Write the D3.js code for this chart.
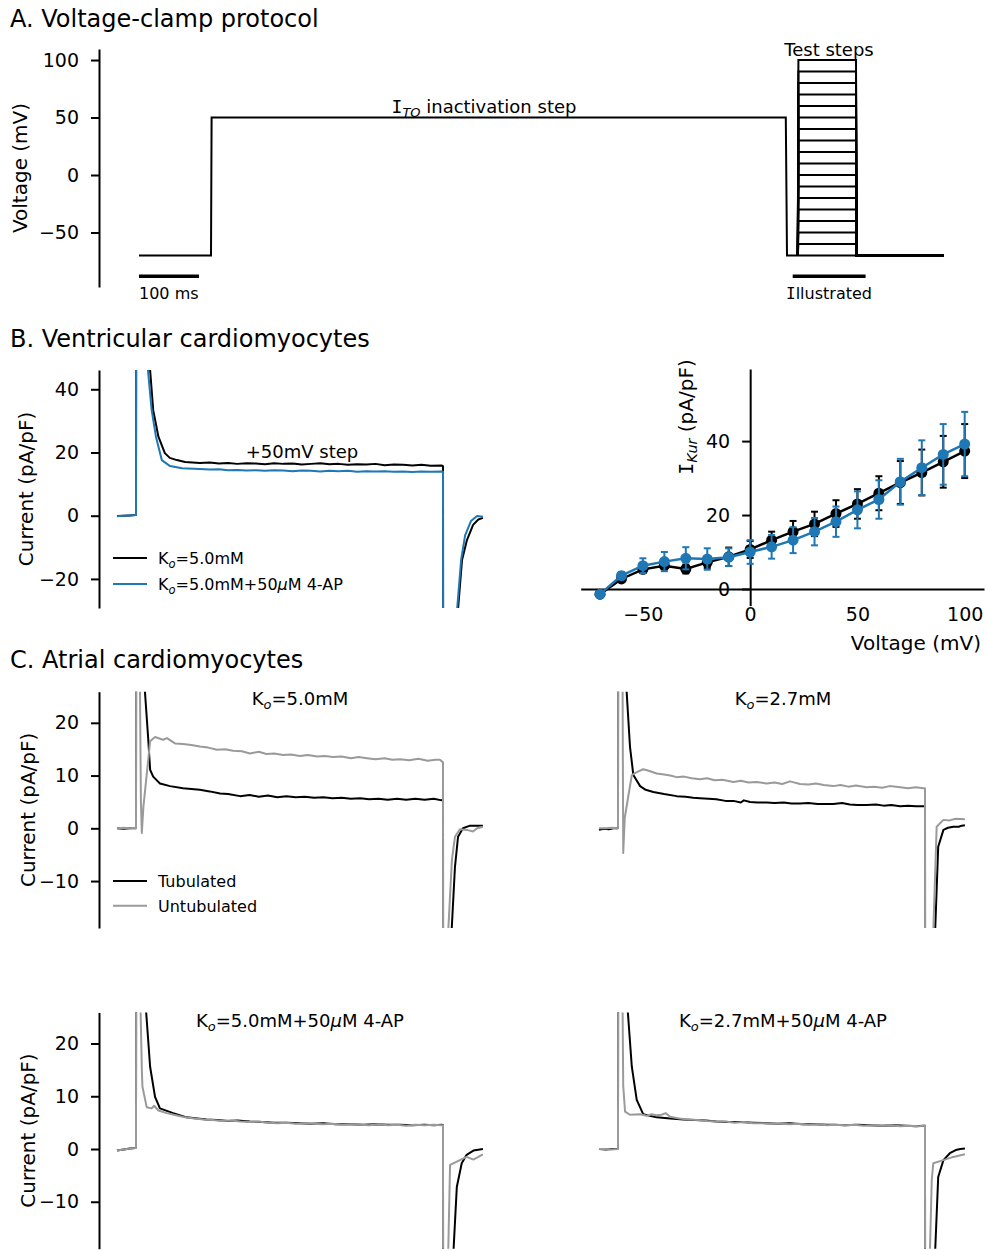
<!DOCTYPE html>
<html>
<head>
<meta charset="utf-8">
<script src="https://cdn.jsdelivr.net/npm/d3@7"></script>
<style>
  body { margin: 0; background: #fff; }
  svg text { font-family: "DejaVu Sans", Verdana, sans-serif; fill: #000; }
</style>
</head>
<body>
<svg id="fig" width="987" height="1251"></svg>
<script>
// ---------- Panel A: voltage-clamp protocol (time in ms, voltage in mV) ----------
const protocolTime    = [0, 120, 121, 1078, 1080, 1098];
const protocolVoltage = [-70, -70, 50, 50, -70, -70];
const testStepVoltages = [-70, -60, -50, -40, -30, -20, -10, 0, 10, 20, 30, 40, 50, 60, 70, 80, 90, 100];
const testStepTimes    = [1098, 1099, 1195, 1196, 1341];
const protocolTicks    = [-50, 0, 50, 100];

// ---------- Panel B: ventricular traces, [time from test-step onset (ms), current (pA/pF)] ----------
const ventControl = [[-6.2,-0.1],[-4,0.0],[-2,0.1],[-0.2,0.2],[0,0.3],[0.4,420],[4.6,46],[5.6,33.4],[7.3,25.0],[9.4,19.8],[11,18.3],[13.3,17.6],[16,17.0],[20.8,16.7],[24,16.8],[27,16.5],[30,16.7],[33,16.4],[36,16.6],[39,16.5],[42,16.3],[45,16.6],[48,16.4],[51,16.5],[54,16.2],[57,16.4],[60,16.6],[63,16.3],[66,16.4],[69,16.1],[72,16.3],[75,16.2],[78,16.4],[81,16.0],[84,16.2],[87,16.1],[90,15.9],[93,16.1],[96,15.8],[99.6,15.9],[100,15.6],[100.3,-420],[103.5,-70],[104.9,-29.5],[106.2,-14.0],[107.8,-7.7],[109.8,-2.9],[111.5,-1.2],[113,-0.7]];
const ventFourAP  = [[-6.2,-0.2],[-4,0.0],[-2,0.1],[-0.2,0.2],[0,0.3],[0.4,420],[3.9,46],[5.1,33.4],[6.5,25.0],[8.4,17.6],[11.1,15.7],[15,15.0],[20.8,14.8],[24,14.6],[27,14.7],[30,14.4],[33,14.5],[36,14.3],[39,14.4],[42,14.2],[45,14.4],[48,14.3],[51,14.1],[54,14.3],[57,14.2],[60,14.0],[63,14.2],[66,14.1],[69,14.2],[72,13.9],[75,14.1],[78,14.0],[81,14.1],[84,13.9],[87,14.0],[90,13.8],[93,14.0],[96,13.9],[99.6,14.0],[100,13.9],[100.3,-420],[103.3,-70],[104.6,-29.5],[105.9,-14.0],[107.2,-6.2],[109.1,-1.7],[111.1,-0.1],[113,-0.3]];
const ventTicks = [-20, 0, 20, 40];

// ---------- Panel B: I-V relation of IKur ----------
const ivVoltage    = [-70, -60, -50, -40, -30, -20, -10, 0, 10, 20, 30, 40, 50, 60, 70, 80, 90, 100];
const ivControl    = [-1.4, 2.7, 5.3, 6.3, 5.4, 7.2, 8.7, 10.7, 13.2, 15.5, 17.6, 20.4, 23.0, 25.9, 28.8, 31.5, 34.4, 37.3];
const ivControlErr = [0.3, 0.8, 1.0, 1.0, 1.2, 1.5, 2.5, 2.3, 2.3, 2.9, 3.3, 3.6, 4.0, 4.6, 5.8, 6.2, 7.0, 7.3];
const ivFourAP     = [-1.4, 3.6, 6.3, 7.4, 8.3, 8.1, 8.6, 10.0, 11.4, 13.2, 15.5, 18.2, 21.4, 24.2, 29.0, 32.8, 36.4, 39.2];
const ivFourAPErr  = [0.5, 1.0, 2.0, 2.6, 3.0, 2.9, 2.4, 3.2, 3.2, 3.5, 3.7, 4.1, 5.0, 5.2, 6.2, 7.4, 8.2, 8.7];
const ivXTicks = [-50, 0, 50, 100];
const ivYTicks = [0, 20, 40];

// ---------- Panel C: atrial traces ----------
const atrTub50 = [[-6.2,0.0],[-4,-0.1],[-2,0.0],[-0.2,0.0],[0,0.1],[0.4,300],[2.9,26],[4.0,16.8],[4.6,11.1],[5.6,9.8],[7.8,8.5],[11.1,8.0],[15.3,7.6],[20.8,7.3],[24,7.0],[27.4,6.6],[30,6.5],[33.9,6.1],[37,6.3],[40,6.0],[43,6.2],[46,5.9],[49,6.1],[52,5.9],[55,6.0],[58,5.8],[61,5.9],[64,5.7],[67,5.8],[70,5.6],[73,5.7],[76,5.5],[79,5.6],[82,5.4],[85,5.6],[88,5.4],[91,5.6],[94,5.4],[97,5.6],[99.6,5.3],[100,5.5],[100.3,-300],[102.8,-19.5],[103.9,-7.3],[104.9,-1.6],[106.5,0.0],[108.8,0.5],[113,0.5]];
const atrUntub50 = [[-6.2,0.0],[-4,0.1],[-2,0.0],[-0.2,0.1],[0,0.0],[0.3,200],[1.3,26],[1.6,5],[1.9,-0.9],[2.4,4],[4.6,16.5],[6.2,17.3],[8.8,16.8],[10.1,17.1],[12.7,16.1],[15.3,16.0],[18,15.8],[20.8,15.5],[23.5,15.3],[26.4,14.9],[29,15.0],[31.6,14.7],[34.5,14.6],[37.1,14.2],[40,14.5],[42.5,14.1],[45,14.2],[47.9,13.9],[50.5,14.0],[53.4,13.7],[56,13.9],[59,13.6],[61.5,13.7],[64.2,13.5],[67,13.6],[70,13.3],[72.5,13.5],[75.2,13.3],[78,13.1],[81,13.3],[83.5,13.0],[86,13.1],[89,12.9],[92,13.2],[95,12.8],[97.5,13.0],[99,13.0],[100,12.5],[100.2,-300],[101.7,-19.5],[102.9,-6.0],[103.9,-1.6],[105.5,-0.2],[107.8,-0.3],[109.8,-0.6],[111.1,0.0],[113,0.3]];
const atrTub27 = [[-6.2,-0.3],[-4.5,-0.1],[-3,-0.2],[-1.5,0.0],[-0.2,0.0],[0,0.1],[0.4,300],[2.8,26],[3.9,15.5],[5.0,10.1],[7.2,8.0],[9,7.3],[11.5,6.9],[15,6.5],[19.1,6.1],[22,6.0],[24.5,5.8],[26.7,5.7],[29.5,5.6],[32,5.5],[35,5.2],[37.6,5.2],[40,4.9],[41,5.3],[43,5.0],[45.5,4.9],[48.4,4.9],[51,4.8],[54,4.9],[56.5,4.7],[59.3,4.7],[62,4.8],[65,4.6],[67.5,4.6],[70.1,4.6],[73,4.8],[75.5,4.5],[78,4.4],[81,4.4],[84,4.5],[86.5,4.3],[89,4.4],[91.9,4.2],[94.5,4.3],[97,4.2],[99.4,4.2],[100,4.2],[100.3,-300],[103.3,-19.5],[104.3,-3.5],[106.0,-0.3],[107.5,0.1],[109.2,0.3],[111,0.3],[112,0.5],[113,0.6]];
const atrUntub27 = [[-6.2,0.0],[-4,0.0],[-2,0.1],[-0.2,0.0],[0,0.0],[0.3,200],[1.5,26],[1.7,-4.7],[2.2,2],[4.5,10.1],[6,10.6],[8.2,11.2],[10,10.9],[12.6,10.4],[15,10.2],[17,10.0],[19.1,9.7],[21.5,9.8],[24,9.5],[26.7,9.3],[29,9.5],[31.5,9.1],[34,9.2],[37.6,8.8],[40,9.0],[42.5,8.7],[45,8.8],[48.4,8.5],[51,8.7],[53.5,8.4],[56,8.9],[59.3,8.4],[62,8.3],[64.5,8.5],[67,8.2],[70.1,8.0],[72.5,8.2],[75,7.9],[77.5,8.1],[81,7.8],[83.5,7.9],[86,7.7],[88.5,8.0],[91.9,7.8],[94.5,7.6],[97,7.8],[99.4,7.6],[100,7.6],[100.2,-300],[102.7,-19.5],[103.8,0.3],[106.0,1.6],[108,1.5],[110,1.8],[113,1.7]];
const atrTub50AP = [[-6.2,-0.3],[-4,-0.1],[-2,0.1],[-0.2,0.2],[0,0.3],[0.4,300],[3.3,26],[4.6,15.6],[6.2,9.9],[7.8,7.7],[12.1,6.8],[16.5,6.0],[20,5.8],[23,5.6],[26.3,5.5],[30,5.3],[33,5.4],[37.1,5.2],[41,5.1],[45,5.0],[49,5.0],[53.4,4.9],[57,4.8],[61,4.9],[65,4.7],[69.7,4.7],[74,4.6],[78,4.7],[82,4.6],[86,4.6],[90,4.5],[94,4.6],[97,4.5],[99.6,4.6],[100,4.5],[100.3,-300],[103.4,-19.5],[104.5,-7.2],[106.1,-2.7],[107.7,-1.1],[109.9,-0.3],[113,0.0]];
const atrUntub50AP = [[-6.2,-0.3],[-4,-0.1],[-2,0.1],[-0.2,0.2],[0,0.3],[0.3,200],[1.5,26],[1.9,15],[2.1,11.8],[3.5,7.9],[5.1,7.7],[5.9,8.2],[7.3,7.3],[10,6.8],[13,6.4],[16,6.0],[19,5.8],[22,5.6],[25,5.5],[28,5.3],[31,5.4],[34,5.2],[37,5.1],[40,5.2],[43,5.0],[46,4.9],[49,5.0],[52,4.8],[55,4.9],[58,4.8],[61,4.7],[64,4.8],[67,4.6],[70,4.7],[73,4.6],[76,4.5],[79,4.7],[82,4.5],[85,4.6],[88,4.4],[91,4.6],[94,4.5],[97,4.6],[99.6,4.5],[100,4.5],[100.2,-300],[101.7,-19.5],[102.3,-3.0],[104.5,-2.4],[107.7,-1.5],[109.9,-2.0],[111.5,-1.5],[113,-1.0]];
const atrTub27AP = [[-6.2,0.0],[-4,-0.1],[-2,0.0],[-0.2,0.0],[0,0.1],[0.4,300],[3.2,26],[4.5,15.6],[6.1,9.3],[8.2,6.6],[12.6,6.0],[17,5.8],[21.3,5.6],[25,5.5],[28.5,5.4],[32.1,5.2],[36,5.1],[40,5.1],[44,5.0],[48.4,4.9],[52,4.8],[56,4.9],[60,4.7],[64,4.7],[68,4.6],[70.1,4.6],[74,4.5],[78,4.6],[82,4.5],[86,4.4],[90,4.5],[94,4.4],[97,4.3],[99.4,4.4],[100,4.4],[100.3,-300],[103.3,-19.5],[104.3,-5.3],[106.0,-2.1],[108.1,-0.8],[110,-0.2],[111.5,0.0],[113,0.1]];
const atrUntub27AP = [[-6.2,0.0],[-4,0.0],[-2,-0.1],[-0.2,0.0],[0,0.0],[0.3,200],[1.5,26],[1.7,12],[2.3,7.1],[3.9,6.5],[7.2,6.6],[9.3,6.3],[11,6.6],[12.5,6.4],[14.2,6.5],[15.5,6.8],[17,6.1],[20,5.8],[23,5.6],[26,5.5],[29,5.3],[32,5.2],[35,5.2],[38,5.0],[41,5.1],[44,4.9],[47,4.9],[50,4.8],[53,4.8],[56,4.7],[59,4.8],[62,4.6],[65,4.7],[68,4.5],[71,4.6],[74,4.5],[77,4.6],[80,4.4],[83,4.5],[86,4.4],[89,4.5],[92,4.3],[95,4.4],[98,4.3],[99.4,4.4],[100,4.4],[100.2,-300],[101.6,-19.5],[102.2,-5.9],[102.7,-2.7],[106.0,-2.1],[109.2,-1.5],[113,-1.0]];
const atrialTicks = [-10, 0, 10, 20];

// ---------- drawing ----------
const BLUE = "#1f77b4", GRAY = "#9a9a9a";
const svg = d3.select("#fig");
const defs = svg.append("defs");

// text with italic subscripts / italic runs
function rich(parent, x, y, segs, size, anchor) {
  const t = parent.append("text").attr("x", x).attr("y", y)
    .attr("font-size", size).attr("text-anchor", anchor || "start");
  let shift = 0;
  segs.forEach(([s, kind]) => {
    const ts = t.append("tspan").text(s);
    if (kind === "sub") {
      const d = size * 0.22;
      ts.attr("font-style", "italic").attr("font-size", size * 0.72).attr("dy", d - shift);
      shift = d;
    } else {
      if (shift) { ts.attr("dy", -shift); shift = 0; }
      if (kind === "it") ts.attr("font-style", "italic");
      if (kind === "I") ts.attr("font-family", '"DejaVu Sans Mono", monospace');
    }
  });
  return t;
}

function styleAxis(g, fontSize) {
  g.selectAll("path.domain").attr("stroke", "#000").attr("stroke-width", 2);
  g.selectAll(".tick line").attr("stroke", "#000").attr("stroke-width", 2);
  g.selectAll(".tick text").attr("font-size", fontSize).attr("fill", "#000")
    .attr("font-family", '"DejaVu Sans", Verdana, sans-serif');
  g.attr("font-family", null).attr("font-size", null);
}

function yLabel(x, y, segs) {
  const g = svg.append("g").attr("transform", `translate(${x},${y}) rotate(-90)`);
  rich(g, 0, 0, segs, 20, "middle");
}

let clipId = 0;
function clipRect(x0, x1, y0, y1) {
  const id = "clip" + (clipId++);
  defs.append("clipPath").attr("id", id).append("rect")
    .attr("x", x0).attr("y", y0).attr("width", x1 - x0).attr("height", y1 - y0);
  return `url(#${id})`;
}

// section titles
svg.append("text").attr("x", 10).attr("y", 27).attr("font-size", 24).text("A. Voltage-clamp protocol");
svg.append("text").attr("x", 10).attr("y", 347).attr("font-size", 24).text("B. Ventricular cardiomyocytes");
svg.append("text").attr("x", 10).attr("y", 668).attr("font-size", 24).text("C. Atrial cardiomyocytes");

// ===== Panel A =====
{
  const x = d3.scaleLinear().domain([0, 1340]).range([139, 943]);
  const y = d3.scaleLinear().domain([-97.4, 109.6]).range([287, 49]);
  const ax = svg.append("g").attr("transform", "translate(99,0)")
    .call(d3.axisLeft(y).tickValues(protocolTicks).tickSize(8).tickSizeOuter(0).tickPadding(12));
  styleAxis(ax, 19);
  yLabel(27, 168, [["Voltage (mV)"]]);

  const line = d3.line().x(d => x(d[0])).y(d => y(d[1]));
  const main = protocolTime.map((t, i) => [t, protocolVoltage[i]]);
  svg.append("path").attr("d", line(main)).attr("fill", "none")
    .attr("stroke", "#000").attr("stroke-width", 2);
  testStepVoltages.forEach(v => {
    const pts = [[testStepTimes[0], -70], [testStepTimes[1], v], [testStepTimes[2], v], [testStepTimes[3], -70], [testStepTimes[4], -70]];
    svg.append("path").attr("d", line(pts)).attr("fill", "none")
      .attr("stroke", "#000").attr("stroke-width", 2).attr("stroke-linejoin", "miter");
  });

  // scale bar and illustrated window
  svg.append("line").attr("x1", x(0)).attr("x2", x(100)).attr("y1", y(-88)).attr("y2", y(-88))
    .attr("stroke", "#000").attr("stroke-width", 3.5);
  svg.append("text").attr("x", x(0)).attr("y", 299).attr("font-size", 16).text("100 ms");
  svg.append("line").attr("x1", x(1089.5)).attr("x2", x(1211)).attr("y1", y(-88)).attr("y2", y(-88))
    .attr("stroke", "#000").attr("stroke-width", 3.5);
  rich(svg, x(1150), 299, [["I", "I"], ["llustrated"]], 16, "middle");

  rich(svg, 484, 113, [["I", "I"], ["TO", "sub"], [" inactivation step"]], 18, "middle");
  svg.append("text").attr("x", 829).attr("y", 56).attr("font-size", 18)
    .attr("text-anchor", "middle").text("Test steps");
}

// ===== Panel B: current traces =====
const xTrace = d3.scaleLinear().domain([0, 100]).range([136, 443]);
const xTraceRight = d3.scaleLinear().domain([0, 100]).range([618, 925]);

function tracePanel(opts) {
  const y = d3.scaleLinear().domain(opts.yDomain).range(opts.yRange);
  const clip = clipRect(opts.clipX[0], opts.clipX[1], opts.yRange[1], opts.yRange[0]);
  if (opts.axis) {
    const ax = svg.append("g").attr("transform", "translate(99,0)")
      .call(d3.axisLeft(y).tickValues(opts.ticks).tickSize(8).tickSizeOuter(0).tickPadding(12));
    styleAxis(ax, 19);
    yLabel(opts.labelX, (opts.yRange[0] + opts.yRange[1]) / 2, [["Current (pA/pF)"]]);
  }
  const line = d3.line().x(d => opts.x(d[0])).y(d => y(d[1]));
  opts.traces.forEach(([data, color]) => {
    svg.append("path").attr("d", line(data)).attr("clip-path", clip)
      .attr("fill", "none").attr("stroke", color).attr("stroke-width", 2)
      .attr("stroke-linejoin", "round");
  });
  return y;
}

tracePanel({
  x: xTrace, yDomain: [-29.2, 46.1], yRange: [608, 370], ticks: ventTicks,
  axis: true, labelX: 33, clipX: [100, 500],
  traces: [[ventControl, "#000"], [ventFourAP, BLUE]]
});
rich(svg, 302, 458, [["+50mV step"]], 18, "middle");
// legend
[[558, "#000", [["K"], ["o", "sub"], ["=5.0mM"]]],
 [584, BLUE, [["K"], ["o", "sub"], ["=5.0mM+50"], ["μ", "it"], ["M 4-AP"]]]].forEach(([ly, c, segs]) => {
  svg.append("line").attr("x1", 113).attr("x2", 147).attr("y1", ly).attr("y2", ly)
    .attr("stroke", c).attr("stroke-width", 2);
  rich(svg, 158, ly + 6, segs, 16, "start");
});

// ===== Panel B: I-V relation =====
{
  const x = d3.scaleLinear().domain([-79, 109]).range([580.7, 984]);
  const y = d3.scaleLinear().domain([-4.5, 59.5]).range([605.6, 369]);
  const ay = svg.append("g").attr("transform", `translate(${x(0)},0)`)
    .call(d3.axisLeft(y).tickValues(ivYTicks).tickSize(8).tickSizeOuter(0).tickPadding(12));
  styleAxis(ay, 19);
  const axx = svg.append("g").attr("transform", `translate(0,${y(0)})`)
    .call(d3.axisBottom(x).tickValues(ivXTicks).tickSize(0).tickSizeOuter(0).tickPadding(19));
  styleAxis(axx, 19);

  const g = svg.append("g").attr("transform", "translate(693,417) rotate(-90)");
  rich(g, 0, 0, [["I", "I"], ["Kur", "sub"], [" (pA/pF)"]], 20, "middle");
  svg.append("text").attr("x", 981).attr("y", 650).attr("font-size", 20)
    .attr("text-anchor", "end").text("Voltage (mV)");

  const series = [[ivControl, ivControlErr, "#000"], [ivFourAP, ivFourAPErr, BLUE]];
  const line = d3.line().x(d => x(d[0])).y(d => y(d[1]));
  series.forEach(([vals, errs, c]) => {
    const pts = ivVoltage.map((v, i) => [v, vals[i], errs[i]]);
    const g = svg.append("g");
    g.append("path").attr("d", line(pts)).attr("fill", "none").attr("stroke", c).attr("stroke-width", 2.5);
    pts.forEach(([v, m, e]) => {
      const cx = x(v);
      g.append("line").attr("x1", cx).attr("x2", cx).attr("y1", y(m - e)).attr("y2", y(m + e))
        .attr("stroke", c).attr("stroke-width", 2);
      [m - e, m + e].forEach(yy => g.append("line").attr("x1", cx - 3.5).attr("x2", cx + 3.5)
        .attr("y1", y(yy)).attr("y2", y(yy)).attr("stroke", c).attr("stroke-width", 2));
      g.append("circle").attr("cx", cx).attr("cy", y(m)).attr("r", 5.5).attr("fill", c);
    });
  });
}

// ===== Panel C: atrial traces =====
const topRange = [928, 691.7], botRange = [1248.7, 1012.4];
tracePanel({ x: xTrace, yDomain: [-18.9, 25.9], yRange: topRange, ticks: atrialTicks,
  axis: true, labelX: 35, clipX: [100, 500],
  traces: [[atrTub50, "#000"], [atrUntub50, GRAY]] });
tracePanel({ x: xTraceRight, yDomain: [-18.9, 25.9], yRange: topRange, ticks: atrialTicks,
  axis: false, clipX: [500, 987],
  traces: [[atrTub27, "#000"], [atrUntub27, GRAY]] });
tracePanel({ x: xTrace, yDomain: [-18.9, 25.9], yRange: botRange, ticks: atrialTicks,
  axis: true, labelX: 35, clipX: [100, 500],
  traces: [[atrTub50AP, "#000"], [atrUntub50AP, GRAY]] });
tracePanel({ x: xTraceRight, yDomain: [-18.9, 25.9], yRange: botRange, ticks: atrialTicks,
  axis: false, clipX: [500, 987],
  traces: [[atrTub27AP, "#000"], [atrUntub27AP, GRAY]] });

rich(svg, 300, 705, [["K"], ["o", "sub"], ["=5.0mM"]], 18, "middle");
rich(svg, 783, 705, [["K"], ["o", "sub"], ["=2.7mM"]], 18, "middle");
rich(svg, 300, 1027, [["K"], ["o", "sub"], ["=5.0mM+50"], ["μ", "it"], ["M 4-AP"]], 18, "middle");
rich(svg, 783, 1027, [["K"], ["o", "sub"], ["=2.7mM+50"], ["μ", "it"], ["M 4-AP"]], 18, "middle");

[[881, "#000", "Tubulated"], [905.7, GRAY, "Untubulated"]].forEach(([ly, c, label]) => {
  svg.append("line").attr("x1", 113).attr("x2", 147).attr("y1", ly).attr("y2", ly)
    .attr("stroke", c).attr("stroke-width", 2);
  svg.append("text").attr("x", 158).attr("y", ly + 6).attr("font-size", 16).text(label);
});
</script>
</body>
</html>
